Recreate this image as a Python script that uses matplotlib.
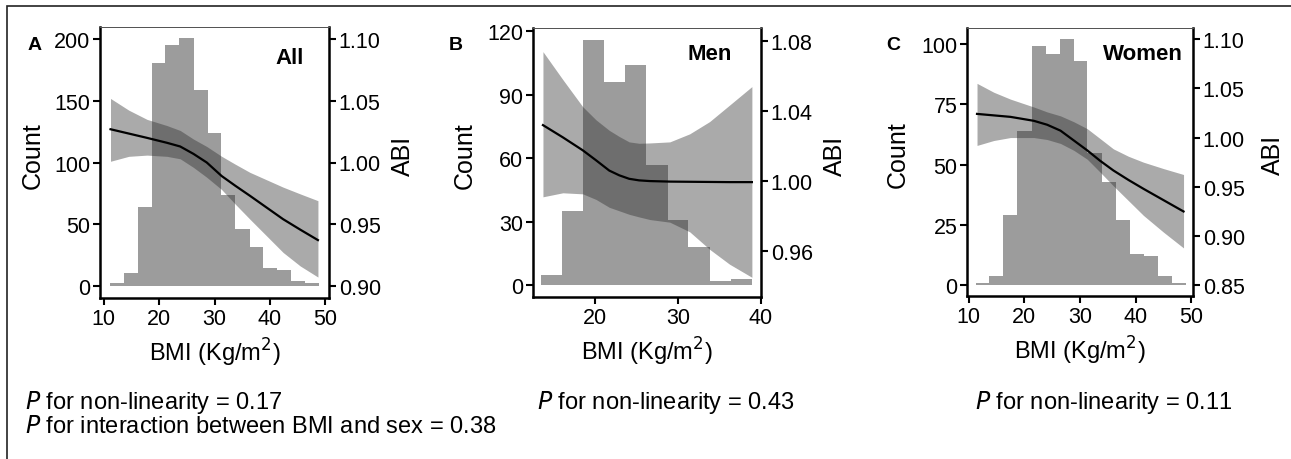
import matplotlib
matplotlib.use("Agg")
import matplotlib.pyplot as plt
from matplotlib.patches import Rectangle

plt.rcParams["font.family"] = ["Liberation Sans", "DejaVu Sans"]

W, H = 1291, 460

# --- histogram data (bin centres, counts) ---
bins_all = [12.3, 14.9, 17.4, 19.9, 22.4, 24.9, 27.5, 30.0, 32.5, 35.0, 37.6, 40.1, 42.6, 45.1, 47.6]
counts_all = [2, 10, 64, 181, 195, 201, 159, 124, 74, 46, 31, 14, 13, 4, 2]
bins_men = [14.7, 17.3, 19.8, 22.3, 24.9, 27.4, 30.0, 32.5, 35.1, 37.6]
counts_men = [5, 35, 116, 96, 104, 57, 31, 18, 2, 3]
bins_women = [12.5, 15.0, 17.5, 20.0, 22.6, 25.1, 27.6, 30.1, 32.6, 35.2, 37.7, 40.2, 42.7, 45.2, 47.8]
counts_women = [1, 4, 29, 64, 99, 96, 102, 93, 55, 43, 27, 13, 12, 4, 1]

# --- spline fit for ABI (estimate, upper, lower) ---
bmi_all = [11.2, 14.5, 17.8, 21.4, 23.8, 26.2, 28.6, 31.3, 33.8, 36.4, 39.4, 42.4, 45.5, 48.7]
abi_all = [1.027, 1.0235, 1.020, 1.016, 1.013, 1.007, 1.000, 0.989, 0.981, 0.973, 0.9635, 0.954, 0.9455, 0.937]
hi_all = [1.052, 1.0425, 1.035, 1.030, 1.026, 1.019, 1.013, 1.005, 0.9985, 0.992, 0.986, 0.980, 0.9745, 0.969]
lo_all = [1.001, 1.005, 1.006, 1.005, 1.003, 0.996, 0.988, 0.978, 0.966, 0.954, 0.9405, 0.927, 0.916, 0.907]

bmi_men = [13.7, 16.1, 18.5, 20.1, 21.7, 22.9, 24.1, 25.3, 26.6, 29.0, 31.4, 33.8, 36.2, 38.9]
abi_men = [1.032, 1.025, 1.0176, 1.0119, 1.006, 1.0033, 1.0013, 1.0004, 1.000, 0.9997, 0.9996, 0.9995, 0.9994, 0.9994]
hi_men = [1.074, 1.058, 1.0425, 1.035, 1.029, 1.0255, 1.0224, 1.0216, 1.0218, 1.0224, 1.027, 1.034, 1.0434, 1.054]
lo_men = [0.991, 0.9933, 0.9927, 0.9895, 0.985, 0.983, 0.981, 0.9795, 0.978, 0.9765, 0.971, 0.961, 0.9525, 0.945]

bmi_women = [11.5, 14.5, 17.5, 21.7, 24.1, 26.5, 28.9, 31.3, 33.6, 36.0, 38.7, 41.4, 45.0, 48.6]
abi_women = [1.024, 1.0225, 1.021, 1.017, 1.013, 1.007, 0.997, 0.987, 0.9765, 0.9666, 0.957, 0.948, 0.9365, 0.925]
hi_women = [1.055, 1.046, 1.039, 1.031, 1.026, 1.022, 1.016, 1.009, 0.999, 0.9885, 0.981, 0.975, 0.9685, 0.9625]
lo_women = [0.992, 0.997, 1.000, 1.000, 0.998, 0.994, 0.987, 0.978, 0.965, 0.951, 0.936, 0.921, 0.904, 0.888]

panels = [
    dict(letter="A", title="All", bins=bins_all, counts=counts_all, width=2.52,
         bmi=bmi_all, abi=abi_all, hi=hi_all, lo=lo_all,
         box=(100, 28, 329, 299), xlim=(9.3, 50.7), xticks=[10, 20, 30, 40, 50],
         ylim=(-10, 210), yticks=[0, 50, 100, 150, 200],
         sec=(0.90, 0.001), sec_ticks=[0.90, 0.95, 1.00, 1.05, 1.10],
         letter_xy=(35, 45), title_xy=(304, 59), ylab_x=33, abi_x=403,
         p_text=["$P$ for non-linearity = 0.17", "$P$ for interaction between BMI and sex = 0.38"],
         p_x=25),
    dict(letter="B", title="Men", bins=bins_men, counts=counts_men, width=2.547,
         bmi=bmi_men, abi=abi_men, hi=hi_men, lo=lo_men,
         box=(533, 29, 761, 298), xlim=(12.5, 40.0), xticks=[20, 30, 40],
         ylim=(-5.6, 121.5), yticks=[0, 30, 60, 90, 120],
         sec=(0.9405, 0.00121), sec_ticks=[0.96, 1.00, 1.04, 1.08],
         letter_xy=(456, 46), title_xy=(732, 55), ylab_x=465, abi_x=835,
         p_text=["$P$ for non-linearity = 0.43"], p_x=537),
    dict(letter="C", title="Women", bins=bins_women, counts=counts_women, width=2.52,
         bmi=bmi_women, abi=abi_women, hi=hi_women, lo=lo_women,
         box=(967, 29, 1193, 297), xlim=(9.7, 50.3), xticks=[10, 20, 30, 40, 50],
         ylim=(-4.4, 106.6), yticks=[0, 25, 50, 75, 100],
         sec=(0.85, 0.00245), sec_ticks=[0.85, 0.90, 0.95, 1.00, 1.05, 1.10],
         letter_xy=(893, 45), title_xy=(1183, 55), ylab_x=898, abi_x=1273,
         p_text=["$P$ for non-linearity = 0.11"], p_x=975),
]

fig = plt.figure(figsize=(W / 100, H / 100), dpi=100)

# outer frame (left and top edges visible)
fig.patches.append(Rectangle((7 / W, -0.5), 2.0, 1.5 - 7 / H, transform=fig.transFigure,
                             fill=False, edgecolor="#222222", linewidth=1.2))

def fx(x):
    return x / W

def fy(y):
    return 1 - y / H

for p in panels:
    x0, y0, x1, y1 = p["box"]
    ax = fig.add_axes([fx(x0), fy(y1), (x1 - x0) / W, (y1 - y0) / H])
    half = p["width"] / 2
    edges = [c - half for c in p["bins"]] + [p["bins"][-1] + half]
    ax.stairs(p["counts"], edges, fill=True, color="#9c9c9c", linewidth=0, zorder=1)
    ax.set_xlim(*p["xlim"])
    ax.set_ylim(*p["ylim"])
    ax.set_xticks(p["xticks"])
    ax.set_yticks(p["yticks"])

    ax2 = ax.twinx()
    a, b = p["sec"]
    ax2.set_ylim(a + b * p["ylim"][0], a + b * p["ylim"][1])
    ax2.fill_between(p["bmi"], p["lo"], p["hi"], color="#2b2b2b", alpha=0.40, linewidth=0)
    ax2.plot(p["bmi"], p["abi"], color="black", linewidth=1.6)
    ax2.set_yticks(p["sec_ticks"])
    ax2.set_yticklabels(["{:.2f}".format(t) for t in p["sec_ticks"]])

    for a_ in (ax, ax2):
        a_.spines["top"].set_linewidth(0.7)
        a_.spines["top"].set_color("#555555")
        a_.tick_params(labelsize=15.5, length=5, width=1.5, pad=2, colors="black")
    ax.spines["left"].set_linewidth(1.8)
    ax.spines["bottom"].set_linewidth(1.8)
    ax.spines["right"].set_visible(False)
    ax2.spines["right"].set_linewidth(1.8)
    ax2.spines["left"].set_visible(False)
    ax2.spines["bottom"].set_visible(False)

    ax.set_xlabel("BMI (Kg/m$^2$)", fontsize=17, labelpad=5)
    fig.text(fx(p["ylab_x"]), fy((y0 + y1) / 2 - 8), "Count", fontsize=18, rotation=90,
             ha="center", va="center")
    fig.text(fx(p["abi_x"]), fy((y0 + y1) / 2 - 8), "ABI", fontsize=18, rotation=90,
             ha="center", va="center")
    fig.text(fx(p["letter_xy"][0]), fy(p["letter_xy"][1]), p["letter"], fontsize=14,
             fontweight="bold", ha="center", va="center")
    fig.text(fx(p["title_xy"][0]), fy(p["title_xy"][1]), p["title"], fontsize=16,
             fontweight="bold", ha="right", va="center")
    for i, t in enumerate(p["p_text"]):
        fig.text(fx(p["p_x"]), fy(403 + 24 * i), t, fontsize=17, ha="left", va="center")

fig.savefig("out.png", dpi=100)
